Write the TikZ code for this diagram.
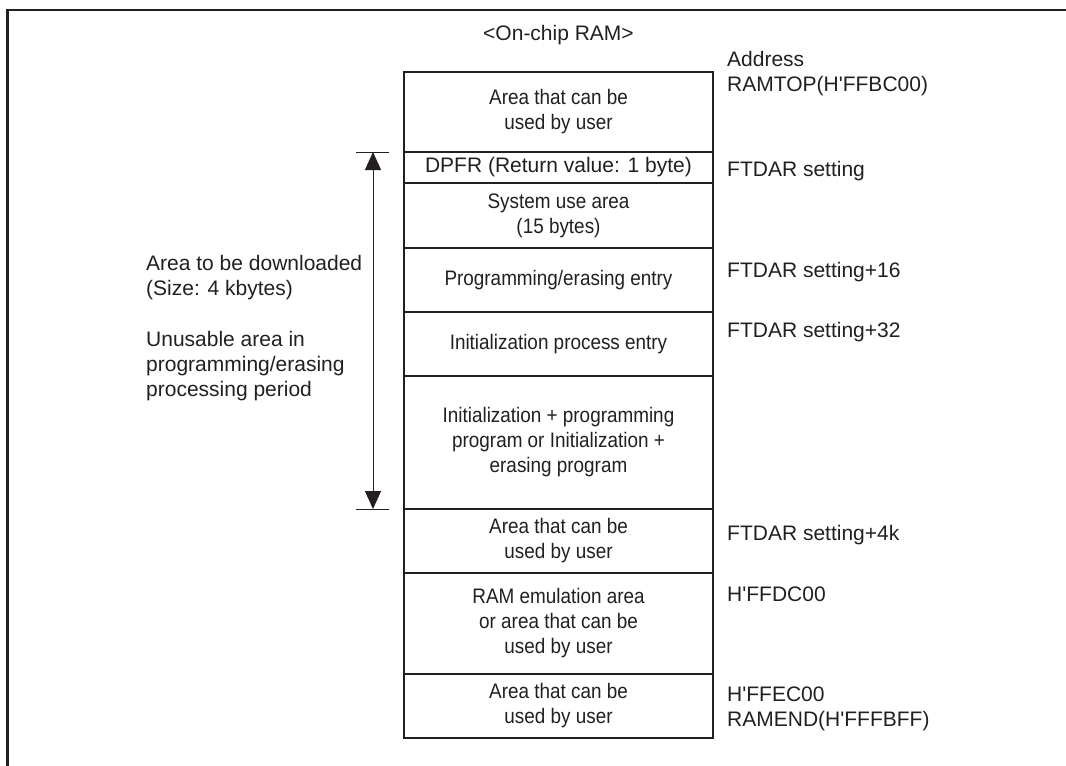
\documentclass[tikz,border=0pt]{standalone}
\usepackage{fontspec}
\setmainfont{Liberation Sans}
\newfontfamily\narrowfont[FakeStretch=0.9]{Liberation Sans}
\usepackage{xcolor}
\usetikzlibrary{arrows.meta,positioning}
\definecolor{ramInk}{RGB}{35,31,32}
\newcommand{\hq}{\textquotesingle}

\begin{document}
\begin{tikzpicture}[x=1pt,y=-1pt,
    ramrow/.style={draw=ramInk, line width=1.1pt, minimum width=309pt, inner sep=0pt, outer sep=0pt,
        align=center, text=ramInk, font=\narrowfont\fontsize{21}{25}\selectfont},
    addrlabel/.style={inner sep=0pt, align=left, text=ramInk, font=\fontsize{21}{25}\selectfont}]
    \useasboundingbox (0,0) rectangle (1066,766);
    % frame
    \draw[line width=2.5pt, ramInk] (7.5,766) -- (7.5,10) -- (1066,10);

    % on-chip RAM map
    \node[addrlabel, anchor=base] (title) at (558.5,40) {<On-chip RAM>};
    \node[ramrow, minimum height=80pt] (r1) at (558.5,112) {Area that can be\\used by user};
    \node[ramrow, minimum height=31pt, below=0pt of r1, font=\fontsize{21}{25}\selectfont] (r2) {DPFR (Return value: 1 byte)};
    \node[ramrow, minimum height=65pt, below=0pt of r2] (r3) {System use area\\(15 bytes)};
    \node[ramrow, minimum height=64pt, below=0pt of r3] (r4) {Programming/erasing entry};
    \node[ramrow, minimum height=64pt, below=0pt of r4] (r5) {Initialization process entry};
    \node[ramrow, minimum height=133pt, below=0pt of r5] (r6) {Initialization + programming\\program or Initialization +\\erasing program};
    \node[ramrow, minimum height=64pt, below=0pt of r6] (r7) {Area that can be\\used by user};
    \node[ramrow, minimum height=101pt, below=0pt of r7] (r8) {RAM emulation area\\or area that can be\\used by user};
    \node[ramrow, minimum height=64pt, below=0pt of r8] (r9) {Area that can be\\used by user};

    % addresses
    \node[addrlabel, anchor=west] (aTop) at (727,74) {Address\\RAMTOP(H\hq FFBC00)};
    \node[addrlabel, anchor=base west] (aFtdar) at (727,176) {FTDAR setting};
    \node[addrlabel, anchor=base west] (aFtdarA) at (727,277) {FTDAR setting+16};
    \node[addrlabel, anchor=base west] (aFtdarB) at (727,337) {FTDAR setting+32};
    \node[addrlabel, anchor=base west] (aFtdarC) at (727,540) {FTDAR setting+4k};
    \node[addrlabel, anchor=base west] (aEmu) at (727,601) {H\hq FFDC00};
    \node[addrlabel, anchor=west] (aEnd) at (727,709) {H\hq FFEC00\\RAMEND(H\hq FFFBFF)};

    % download area
    \coordinate (dlTop) at (373,152);
    \coordinate (dlBot) at (373,509);
    \draw[line width=1pt, ramInk] (356,152) -- (389,152);
    \draw[line width=1pt, ramInk] (356,509) -- (389,509);
    \draw[line width=1pt, ramInk, {Triangle[length=18pt,width=16pt]}-{Triangle[length=18pt,width=16pt]}] (dlTop) -- (dlBot);
    \node[addrlabel, anchor=west] (dlSize) at (146,278) {Area to be downloaded\\(Size: 4 kbytes)};
    \node[addrlabel, anchor=west] (dlLock) at (146,366.5) {Unusable area in\\programming/erasing\\processing period};
\end{tikzpicture}
\end{document}
